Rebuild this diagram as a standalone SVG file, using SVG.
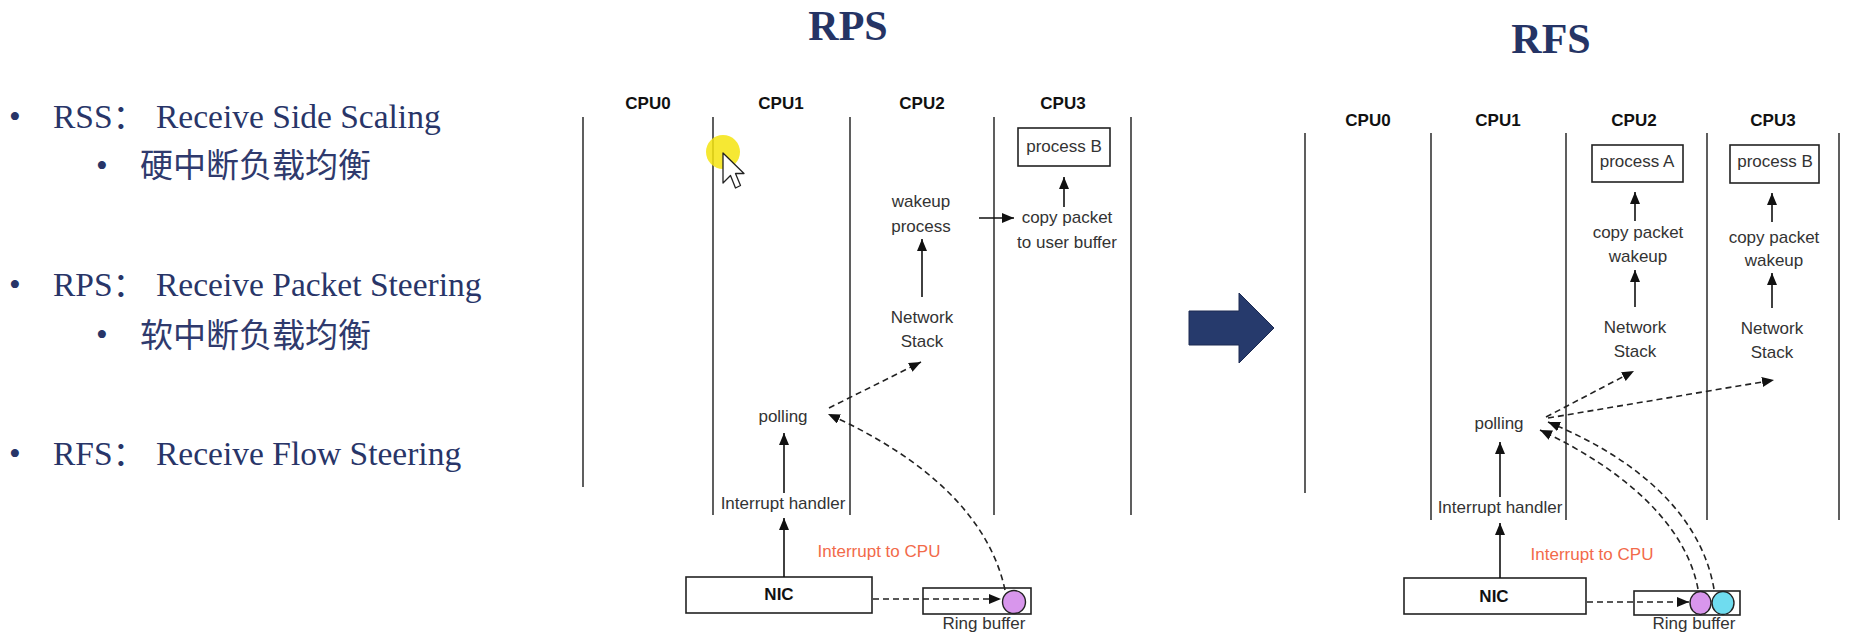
<svg xmlns="http://www.w3.org/2000/svg" width="1864" height="644" viewBox="0 0 1864 644">
<style>
.bg{fill:#ffffff}
.navy{font-family:"Liberation Serif","Noto Sans CJK SC",serif;fill:#283568}
.bul{font-size:33.5px}
.cn{font-family:"Noto Sans CJK SC","Liberation Sans",sans-serif;font-size:33px;fill:#2f3a6d}
.title{font-family:"Liberation Serif",serif;font-weight:bold;font-size:42px;fill:#253465;text-anchor:middle}
.lane{stroke:#4d4d4d;stroke-width:1.8;fill:none}
.lbl{font-family:"Liberation Sans",Arial,sans-serif;font-size:17px;fill:#333333;text-anchor:middle}
.cpu{font-weight:bold;fill:#111111}
.red{fill:#f26a4a}
.box{fill:#ffffff;stroke:#222222;stroke-width:1.6}
.solid{stroke:#111111;stroke-width:1.6;fill:none;marker-end:url(#ah)}
.dash{stroke:#222222;stroke-width:1.6;stroke-dasharray:6 4;fill:none;marker-end:url(#ah)}
</style>
<defs>
<marker id="ah" viewBox="0 0 12 10" refX="12" refY="5" markerWidth="12" markerHeight="10" markerUnits="userSpaceOnUse" orient="auto">
<path d="M0,0 L12,5 L0,10 z" fill="#111111"/>
</marker>
</defs>
<rect class="bg" x="0" y="0" width="1864" height="644"/>

<g id="bullets">
<text class="navy bul" x="9" y="128">•</text>
<text class="navy bul" x="53" y="128">RSS：<tspan x="156">Receive Side Scaling</tspan></text>
<text class="navy bul" x="96" y="177">•</text>
<text class="cn" x="140" y="177">硬中断负载均衡</text>
<text class="navy bul" x="9" y="296">•</text>
<text class="navy bul" x="53" y="296">RPS：<tspan x="156">Receive Packet Steering</tspan></text>
<text class="navy bul" x="96" y="346">•</text>
<text class="cn" x="140" y="347">软中断负载均衡</text>
<text class="navy bul" x="9" y="465">•</text>
<text class="navy bul" x="53" y="465">RFS：<tspan x="156">Receive Flow Steering</tspan></text>
</g>

<g id="rps">
<text class="title" x="848" y="40">RPS</text>
<g id="rps-lanes">
<line class="lane" x1="583" y1="117" x2="583" y2="487"/>
<line class="lane" x1="713" y1="117" x2="713" y2="515"/>
<line class="lane" x1="850" y1="117" x2="850" y2="515"/>
<line class="lane" x1="994" y1="117" x2="994" y2="515"/>
<line class="lane" x1="1131" y1="117" x2="1131" y2="515"/>
<text class="lbl cpu" x="648" y="109">CPU0</text>
<text class="lbl cpu" x="781" y="109">CPU1</text>
<text class="lbl cpu" x="922" y="109">CPU2</text>
<text class="lbl cpu" x="1063" y="109">CPU3</text>
</g>
<g id="rps-processB"><rect class="box" x="1018" y="128" width="92" height="38"/><text class="lbl" x="1064" y="152">process B</text></g>
<g id="rps-wakeup"><text class="lbl" x="921" y="207">wakeup</text><text class="lbl" x="921" y="232">process</text></g>
<g id="rps-copy"><text class="lbl" x="1067" y="223">copy packet</text><text class="lbl" x="1067" y="248">to user buffer</text></g>
<g id="rps-stack"><text class="lbl" x="922" y="323">Network</text><text class="lbl" x="922" y="347">Stack</text></g>
<g id="rps-polling"><text class="lbl" x="783" y="422">polling</text></g>
<g id="rps-handler"><text class="lbl" x="783" y="509">Interrupt handler</text></g>
<g id="rps-intr"><text class="lbl red" x="879" y="557">Interrupt to CPU</text></g>
<g id="rps-nic"><rect class="box" x="686" y="577" width="186" height="36"/><text class="lbl cpu" x="779" y="600">NIC</text></g>
<g id="rps-ring"><rect class="box" x="923" y="588" width="108" height="26"/><circle cx="1014" cy="602" r="11.5" fill="#d896ec" stroke="#222" stroke-width="1.4"/><text class="lbl" x="984" y="629">Ring buffer</text></g>
</g>

<g id="rps-connectors">
<path class="solid" d="M1064,207 L1064,177"/>
<path class="solid" d="M922,297 L922,239"/>
<path class="solid" d="M979,218 L1014,218"/>
<path class="dash" d="M829,408 L921,362"/>
<path class="solid" d="M784,493 L784,433"/>
<path class="solid" d="M784,577 L784,518"/>
<path class="dash" d="M873,599 L1001,599"/>
<path class="dash" d="M1005,590 C990,520 930,460 828,414"/>
</g>

<g id="cursor">
<circle cx="723" cy="152" r="17" fill="#f5e40f" opacity="0.85"/>
<path d="M723,153 L723,183 L730.5,175.5 L735.5,188 L740.5,185.5 L735.5,173.5 L744,173.5 Z" fill="#ffffff" stroke="#222" stroke-width="1.3" stroke-linejoin="round"/>
</g>

<g id="big-arrow">
<polygon points="1189,311 1239,311 1239,293 1274,328 1239,363 1239,345 1189,345" fill="#263a6c" stroke="#1c2b52" stroke-width="1"/>
</g>

<g id="rfs">
<text class="title" x="1551" y="53">RFS</text>
<g id="rfs-lanes">
<line class="lane" x1="1305" y1="133" x2="1305" y2="493"/>
<line class="lane" x1="1431" y1="133" x2="1431" y2="520"/>
<line class="lane" x1="1566" y1="133" x2="1566" y2="520"/>
<line class="lane" x1="1707" y1="133" x2="1707" y2="520"/>
<line class="lane" x1="1839" y1="133" x2="1839" y2="520"/>
<text class="lbl cpu" x="1368" y="126">CPU0</text>
<text class="lbl cpu" x="1498" y="126">CPU1</text>
<text class="lbl cpu" x="1634" y="126">CPU2</text>
<text class="lbl cpu" x="1773" y="126">CPU3</text>
</g>
<g id="rfs-processA"><rect class="box" x="1592" y="145" width="91" height="37"/><text class="lbl" x="1637" y="167">process A</text></g>
<g id="rfs-processB"><rect class="box" x="1730" y="145" width="89" height="38"/><text class="lbl" x="1775" y="167">process B</text></g>
<g id="rfs-copyA"><text class="lbl" x="1638" y="238">copy packet</text><text class="lbl" x="1638" y="262">wakeup</text></g>
<g id="rfs-copyB"><text class="lbl" x="1774" y="243">copy packet</text><text class="lbl" x="1774" y="266">wakeup</text></g>
<g id="rfs-stackA"><text class="lbl" x="1635" y="333">Network</text><text class="lbl" x="1635" y="357">Stack</text></g>
<g id="rfs-stackB"><text class="lbl" x="1772" y="334">Network</text><text class="lbl" x="1772" y="358">Stack</text></g>
<g id="rfs-polling"><text class="lbl" x="1499" y="429">polling</text></g>
<g id="rfs-handler"><text class="lbl" x="1500" y="513">Interrupt handler</text></g>
<g id="rfs-intr"><text class="lbl red" x="1592" y="560">Interrupt to CPU</text></g>
<g id="rfs-nic"><rect class="box" x="1404" y="578" width="182" height="36"/><text class="lbl cpu" x="1494" y="602">NIC</text></g>
<g id="rfs-ring"><rect class="box" x="1634" y="591" width="106" height="24"/><ellipse cx="1700.5" cy="603" rx="10.5" ry="11.5" fill="#d896ec" stroke="#222" stroke-width="1.4"/><ellipse cx="1723" cy="603" rx="11" ry="11.5" fill="#6fdcef" stroke="#222" stroke-width="1.4"/><text class="lbl" x="1694" y="629">Ring buffer</text></g>
</g>

<g id="rfs-connectors">
<path class="solid" d="M1635,221 L1635,192"/>
<path class="solid" d="M1635,307 L1635,270"/>
<path class="solid" d="M1772,222 L1772,193"/>
<path class="solid" d="M1772,308 L1772,273"/>
<path class="dash" d="M1546,417 L1634,371"/>
<path class="dash" d="M1548,418 L1774,380"/>
<path class="solid" d="M1500,497 L1500,442"/>
<path class="solid" d="M1500,578 L1500,523"/>
<path class="dash" d="M1587,602 L1689,602"/>
<path class="dash" d="M1698,589 C1686,525 1625,470 1540,430"/>
<path class="dash" d="M1714,589 C1702,520 1645,462 1548,422"/>
</g>
</svg>
